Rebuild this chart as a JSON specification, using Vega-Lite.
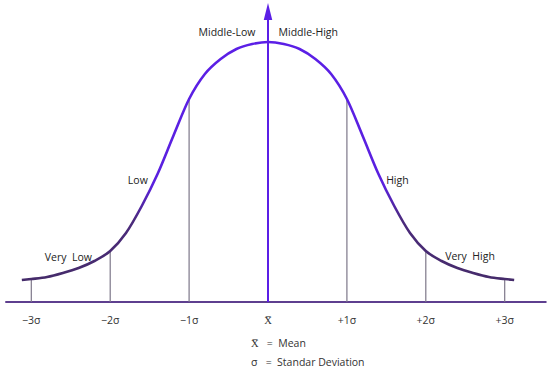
{
  "$schema": "https://vega.github.io/schema/vega-lite/v6.json",
  "width": 550,
  "height": 302,
  "autosize": "none",
  "padding": {"left": 0, "top": 0, "right": 0, "bottom": 70},
  "background": "white",
  "config": {"view": {"stroke": null}, "text": {"font": "Open Sans"}},
  "datasets": {
    "curve": [
      {"u": -3.12, "h": 22}, {"u": -3.0, "h": 23}, {"u": -2.8, "h": 25}, {"u": -2.6, "h": 29},
      {"u": -2.4, "h": 34}, {"u": -2.2, "h": 41}, {"u": -2.0, "h": 51}, {"u": -1.8, "h": 69},
      {"u": -1.6, "h": 96}, {"u": -1.4, "h": 128}, {"u": -1.2, "h": 166}, {"u": -1.0, "h": 203},
      {"u": -0.8, "h": 228}, {"u": -0.6, "h": 243}, {"u": -0.4, "h": 253}, {"u": -0.2, "h": 258},
      {"u": 0, "h": 260},
      {"u": 0.2, "h": 258}, {"u": 0.4, "h": 253}, {"u": 0.6, "h": 243}, {"u": 0.8, "h": 228},
      {"u": 1.0, "h": 203}, {"u": 1.2, "h": 166}, {"u": 1.4, "h": 128}, {"u": 1.6, "h": 96},
      {"u": 1.8, "h": 69}, {"u": 2.0, "h": 51}, {"u": 2.2, "h": 41}, {"u": 2.4, "h": 34},
      {"u": 2.6, "h": 29}, {"u": 2.8, "h": 25}, {"u": 3.0, "h": 23}, {"u": 3.12, "h": 22}
    ],
    "sigma": [
      {"u": -3, "h": 23, "label": "−3σ"}, {"u": -2, "h": 51, "label": "−2σ"},
      {"u": -1, "h": 203, "label": "−1σ"}, {"u": 0, "h": 0, "label": "X̅"},
      {"u": 1, "h": 203, "label": "+1σ"}, {"u": 2, "h": 51, "label": "+2σ"},
      {"u": 3, "h": 23, "label": "+3σ"}
    ],
    "regions": [
      {"u": -0.52, "h": 269, "label": "Middle-Low"},
      {"u": 0.51, "h": 269, "label": "Middle-High"},
      {"u": -1.65, "h": 121, "label": "Low"},
      {"u": 1.64, "h": 121, "label": "High"},
      {"u": -2.53, "h": 44, "label": "Very\u00a0\u00a0Low"},
      {"u": 2.56, "h": 45, "label": "Very\u00a0\u00a0High"}
    ],
    "legend": [
      {"u": -0.215, "h": -42, "label": "X̅\u00a0\u00a0\u00a0=\u00a0\u00a0Mean"},
      {"u": -0.215, "h": -61, "label": "σ\u00a0\u00a0\u00a0=\u00a0\u00a0Standar Deviation"}
    ]
  },
  "layer": [
    {
      "data": {"values": [{"a": -3.33, "b": 3.53, "h": 0}]},
      "mark": {"type": "rule", "stroke": "#5e3f8f", "strokeWidth": 2},
      "encoding": {
        "x": {"field": "a", "type": "quantitative", "scale": {"domain": [-3.3967, 3.5741], "nice": false, "zero": false}, "axis": null},
        "x2": {"field": "b"},
        "y": {"field": "h", "type": "quantitative", "scale": {"domain": [0, 302], "nice": false, "zero": false}, "axis": null}
      }
    },
    {
      "data": {"name": "sigma"},
      "transform": [{"filter": "datum.u != 0"}],
      "mark": {"type": "rule", "stroke": "#7d7789", "strokeWidth": 1.2},
      "encoding": {
        "x": {"field": "u", "type": "quantitative"},
        "y": {"field": "h", "type": "quantitative"},
        "y2": {"datum": 0}
      }
    },
    {
      "data": {"values": [{"u": 0, "h": 0, "top": 285}]},
      "mark": {"type": "rule", "stroke": "#5b1fe6", "strokeWidth": 2},
      "encoding": {
        "x": {"field": "u", "type": "quantitative"},
        "y": {"field": "h", "type": "quantitative"},
        "y2": {"field": "top"}
      }
    },
    {
      "data": {"values": [{"u": 0, "h": 290.5}]},
      "mark": {"type": "point", "shape": "M0,-1L0.5,1L-0.5,1Z", "size": 289, "filled": true, "fill": "#5b1fe6", "opacity": 1, "strokeWidth": 0},
      "encoding": {
        "x": {"field": "u", "type": "quantitative"},
        "y": {"field": "h", "type": "quantitative"}
      }
    },
    {
      "data": {"name": "curve"},
      "mark": {
        "type": "line",
        "interpolate": "monotone",
        "strokeWidth": 2.6,
        "stroke": {
          "gradient": "linear", "x1": 0, "y1": 0, "x2": 0, "y2": 1,
          "stops": [
            {"offset": 0, "color": "#5b1fe6"},
            {"offset": 0.6, "color": "#5a20df"},
            {"offset": 0.75, "color": "#4b2a7c"},
            {"offset": 1, "color": "#452b6a"}
          ]
        }
      },
      "encoding": {
        "x": {"field": "u", "type": "quantitative"},
        "y": {"field": "h", "type": "quantitative"}
      }
    },
    {
      "data": {"name": "sigma"},
      "mark": {"type": "text", "fontSize": 10.5, "color": "#333333", "baseline": "middle", "align": "center", "dy": 19},
      "encoding": {
        "x": {"field": "u", "type": "quantitative"},
        "y": {"datum": 0},
        "text": {"field": "label"}
      }
    },
    {
      "data": {"name": "regions"},
      "mark": {"type": "text", "fontSize": 10.5, "color": "#222222", "baseline": "middle", "align": "center"},
      "encoding": {
        "x": {"field": "u", "type": "quantitative"},
        "y": {"field": "h", "type": "quantitative"},
        "text": {"field": "label"}
      }
    },
    {
      "data": {"name": "legend"},
      "mark": {"type": "text", "fontSize": 10.5, "color": "#333333", "baseline": "middle", "align": "left"},
      "encoding": {
        "x": {"field": "u", "type": "quantitative"},
        "y": {"field": "h", "type": "quantitative"},
        "text": {"field": "label"}
      }
    }
  ]
}
